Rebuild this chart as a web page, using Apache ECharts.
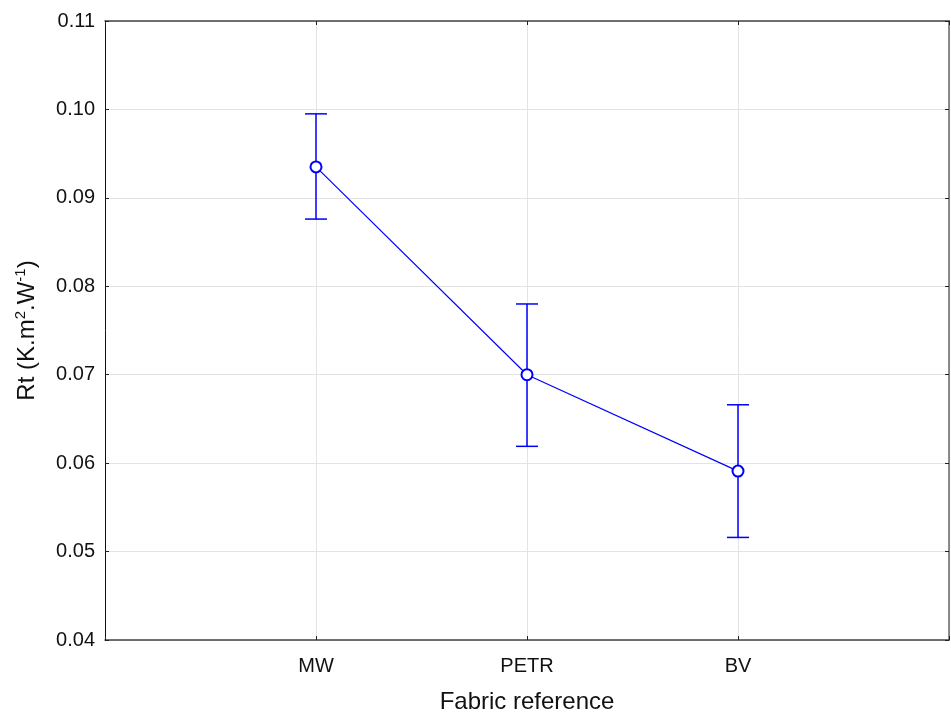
<!DOCTYPE html>
<html><head><meta charset="utf-8">
<script src="https://cdn.jsdelivr.net/npm/echarts@6/dist/echarts.min.js"></script>
<style>html,body{margin:0;padding:0;background:#fff}#c{width:951px;height:714px}</style>
</head><body><div id="c"></div>
<script>
const categories = ['MW', 'PETR', 'BV'];
const means = [0.0935, 0.0700, 0.0591];
const lowers = [0.0876, 0.0619, 0.0516];
const uppers = [0.0995, 0.0780, 0.0666];
const yTicks = [0.04, 0.05, 0.06, 0.07, 0.08, 0.09, 0.10, 0.11];

const xCats = [''].concat(categories).concat(['']);
const FONT = '"Liberation Sans", Arial, sans-serif';
const BLUE = '#0000ff';

const chart = echarts.init(document.getElementById('c'));
chart.setOption({
  animation: false,
  backgroundColor: '#fff',
  grid: {left: 105, right: 2, top: 21, bottom: 74, containLabel: false, outerBoundsMode: 'none'},
  xAxis: [{
    type: 'category', data: xCats, boundaryGap: false, position: 'bottom',
    axisLine: {lineStyle: {color: '#444', width: 1.5}},
    axisTick: {inside: true, length: 4, lineStyle: {color: '#222'}},
    axisLabel: {color: '#111', fontSize: 20, fontFamily: FONT, margin: 16},
    splitLine: {show: true, lineStyle: {color: '#e3e3e3', width: 1}},
    name: 'Fabric reference', nameLocation: 'middle', nameGap: 50,
    nameTextStyle: {color: '#111', fontSize: 24, fontFamily: FONT}
  }, {
    type: 'category', data: xCats, boundaryGap: false, position: 'top',
    axisLine: {lineStyle: {color: '#444', width: 1.5}},
    axisTick: {inside: true, length: 4, lineStyle: {color: '#222'}},
    axisLabel: {show: false}, splitLine: {show: false}
  }],
  yAxis: [{
    type: 'value', min: 0.04, max: 0.11, interval: 0.01, position: 'left',
    axisLine: {show: true, lineStyle: {color: '#111', width: 1}},
    axisTick: {show: true, inside: true, length: 4, lineStyle: {color: '#222'}},
    axisLabel: {color: '#111', fontSize: 20, fontFamily: FONT, margin: 10,
      formatter: v => { const t = yTicks.find(x => Math.abs(x - v) < 1e-9); return (t !== undefined ? t : v).toFixed(2); }},
    splitLine: {show: true, lineStyle: {color: '#e3e3e3', width: 1}},
    name: 'Rt (K.m{sup|2}.W{sup|-1})', nameLocation: 'middle', nameGap: 64,
    nameTextStyle: {color: '#111', fontSize: 24, fontFamily: FONT,
      rich: {sup: {fontSize: 15, fontFamily: FONT, color: '#111', verticalAlign: 'top', lineHeight: 28}}}
  }, {
    type: 'value', min: 0.04, max: 0.11, interval: 0.01, position: 'right',
    axisLine: {show: true, lineStyle: {color: '#666', width: 1.5}},
    axisTick: {show: true, inside: true, length: 4, lineStyle: {color: '#222'}},
    axisLabel: {show: false}, splitLine: {show: false}
  }],
  series: [{
    type: 'custom', xAxisIndex: 0, yAxisIndex: 0, z: 3,
    data: categories.map((c, i) => [c, lowers[i], uppers[i]]),
    renderItem: function (params, api) {
      const x = api.value(0);
      const lo = api.coord([x, api.value(1)]);
      const hi = api.coord([x, api.value(2)]);
      const hw = 11;
      const st = {stroke: BLUE, lineWidth: 1.5};
      return {type: 'group', children: [
        {type: 'line', shape: {x1: lo[0], y1: lo[1], x2: hi[0], y2: hi[1]}, style: st},
        {type: 'line', shape: {x1: lo[0] - hw, y1: lo[1], x2: lo[0] + hw, y2: lo[1]}, style: st},
        {type: 'line', shape: {x1: hi[0] - hw, y1: hi[1], x2: hi[0] + hw, y2: hi[1]}, style: st}
      ]};
    }
  }, {
    type: 'line', xAxisIndex: 0, yAxisIndex: 0, z: 4,
    data: categories.map((c, i) => [c, means[i]]),
    lineStyle: {color: BLUE, width: 1.2},
    symbol: 'emptyCircle', symbolSize: 11,
    itemStyle: {color: BLUE, borderColor: BLUE, borderWidth: 2}
  }]
});
</script></body></html>
